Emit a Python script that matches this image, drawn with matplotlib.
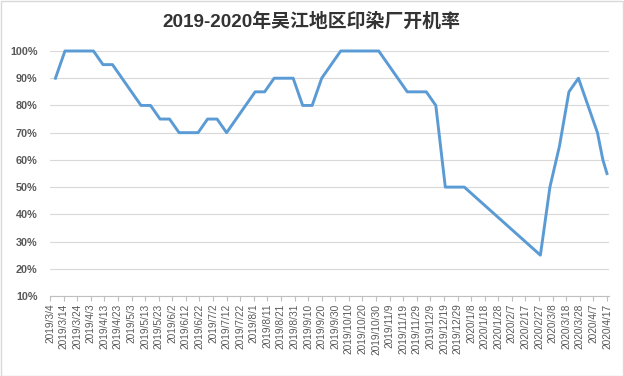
import matplotlib
matplotlib.use("Agg")
import matplotlib.pyplot as plt
import matplotlib.dates as mdates
from matplotlib.patches import Rectangle
from matplotlib.ticker import FixedLocator, FuncFormatter
import datetime as dt

plt.rcParams['font.family'] = ['Liberation Sans', 'Noto Sans CJK SC', 'DejaVu Sans']

title = "2019-2020年吴江地区印染厂开机率"

dates = [
    "2019-03-08", "2019-03-15", "2019-03-22", "2019-03-29", "2019-04-05",
    "2019-04-12", "2019-04-19", "2019-04-26", "2019-05-03", "2019-05-10",
    "2019-05-17", "2019-05-24", "2019-05-31", "2019-06-07", "2019-06-14",
    "2019-06-21", "2019-06-28", "2019-07-05", "2019-07-12", "2019-07-19",
    "2019-07-26", "2019-08-02", "2019-08-09", "2019-08-16", "2019-08-23",
    "2019-08-30", "2019-09-06", "2019-09-13", "2019-09-20", "2019-09-27",
    "2019-10-04", "2019-10-11", "2019-10-18", "2019-10-25", "2019-11-01",
    "2019-11-08", "2019-11-15", "2019-11-22", "2019-11-29", "2019-12-06",
    "2019-12-13", "2019-12-20", "2019-12-27", "2020-01-03",
    "2020-02-28", "2020-03-06", "2020-03-13", "2020-03-20", "2020-03-27",
    "2020-04-03", "2020-04-10", "2020-04-14", "2020-04-17",
]
rates = [
    0.90, 1.00, 1.00, 1.00, 1.00,
    0.95, 0.95, 0.90, 0.85, 0.80,
    0.80, 0.75, 0.75, 0.70, 0.70,
    0.70, 0.75, 0.75, 0.70, 0.75,
    0.80, 0.85, 0.85, 0.90, 0.90,
    0.90, 0.80, 0.80, 0.90, 0.95,
    1.00, 1.00, 1.00, 1.00, 1.00,
    0.95, 0.90, 0.85, 0.85, 0.85,
    0.80, 0.50, 0.50, 0.50,
    0.25, 0.50, 0.65, 0.85, 0.90,
    0.80, 0.70, 0.60, 0.55,
]
yticks = [0.1, 0.2, 0.3, 0.4, 0.5, 0.6, 0.7, 0.8, 0.9, 1.0]
x_start = "2019-03-04"
x_end = "2020-04-18"
tick_step_days = 10

xd = [dt.datetime.strptime(d, "%Y-%m-%d") for d in dates]
x0 = dt.datetime.strptime(x_start, "%Y-%m-%d")
x1 = dt.datetime.strptime(x_end, "%Y-%m-%d") + dt.timedelta(hours=12)
tick_dates = []
t = x0
while t <= x1:
    tick_dates.append(t)
    t += dt.timedelta(days=tick_step_days)

fig = plt.figure(figsize=(6.24, 3.76), dpi=100)
fig.patches.append(Rectangle((0.5/624, 0.5/376), 622.5/624, 374.5/376,
                             transform=fig.transFigure, fill=False,
                             edgecolor="#D9D9D9", linewidth=1.0))
ax = fig.add_axes([50/624, 80/376, 559/624, 245/376])

ax.plot(mdates.date2num(xd), rates, color="#5B9BD5", linewidth=2.1,
        solid_joinstyle="round", clip_on=False, zorder=3)

ax.set_xlim(mdates.date2num(x0), mdates.date2num(x1))
ax.set_ylim(0.1, 1.0)
ax.set_yticks(yticks)
ax.yaxis.set_major_formatter(FuncFormatter(lambda v, p: f"{round(v*100)}%"))
ax.xaxis.set_major_locator(FixedLocator(mdates.date2num(tick_dates)))
ax.xaxis.set_major_formatter(FuncFormatter(
    lambda v, p: (lambda d: f"{d.year}/{d.month}/{d.day}")(mdates.num2date(v))))

ax.grid(axis="y", color="#D9D9D9", linewidth=0.8)
ax.set_axisbelow(True)
for s in ["top", "right", "left"]:
    ax.spines[s].set_visible(False)
ax.spines["bottom"].set_color("#BFBFBF")
ax.spines["bottom"].set_linewidth(0.8)

ax.tick_params(axis="y", length=0, pad=9, labelsize=7.8, labelcolor="#595959")
for lbl in ax.get_yticklabels():
    lbl.set_fontweight("bold")
ax.tick_params(axis="x", length=3.5, width=0.8, color="#BFBFBF", pad=2,
               labelsize=7.3, labelcolor="#595959", labelrotation=90)

fig.text(311/624, 1 - 22/376, title, ha="center", va="center", fontsize=13.6,
         fontweight="bold", color="#333333")

fig.savefig("out.png", dpi=100)
